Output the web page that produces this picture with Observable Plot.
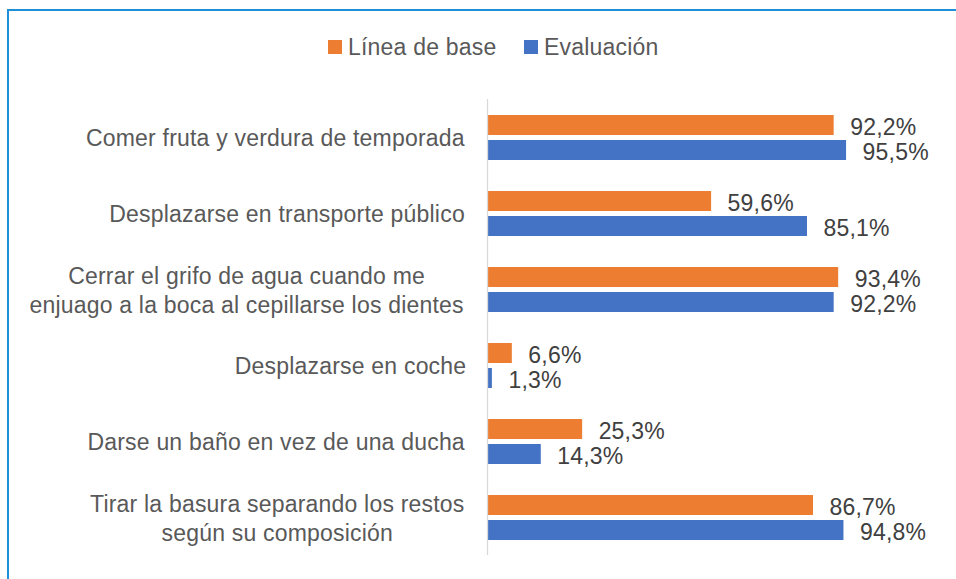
<!DOCTYPE html>
<html>
<head>
<meta charset="utf-8">
<script src="https://cdn.jsdelivr.net/npm/d3@7"></script>
<script src="https://cdn.jsdelivr.net/npm/@observablehq/plot@0.6"></script>
<style>
  html, body { margin: 0; padding: 0; background: #fff; width: 956px; height: 579px; overflow: hidden; }
  #wrap { position: relative; width: 956px; height: 579px; font-family: "Liberation Sans", Arial, sans-serif; }
  #border { position: absolute; left: 7px; top: 9px; width: 1000px; height: 700px; border-top: 2px solid #1E8FD9; border-left: 2px solid #1E8FD9; box-sizing: border-box; pointer-events: none; }
  #legend { position: absolute; left: 0; top: 0; width: 956px; height: 80px; }
  .item { position: absolute; top: 31px; display: flex; align-items: center; font-size: 23px; color: #595959; letter-spacing: 0.2px; height: 32px; }
  .sw { width: 14px; height: 14px; margin-right: 6px; }
  #chart { position: absolute; left: 0; top: 80px; }
  g[aria-label="category-label"] text { letter-spacing: 0.42px; }
</style>
</head>
<body>
<div id="wrap">
  <div id="legend"></div>
  <div id="chart"></div>
  <div id="border"></div>
</div>
<script>
const categories = [
  "Comer fruta y verdura de temporada",
  "Desplazarse en transporte público",
  "Cerrar el grifo de agua cuando me\nenjuago a la boca al cepillarse los dientes",
  "Desplazarse en coche",
  "Darse un baño en vez de una ducha",
  "Tirar la basura separando los restos\nsegún su composición"
];
const series = ["Línea de base", "Evaluación"];
const baseline = [92.2, 59.6, 93.4, 6.6, 25.3, 86.7];
const evaluation = [95.5, 85.1, 92.2, 1.3, 14.3, 94.8];
const colors = ["#ED7D31", "#4472C4"];

const rows = [];
categories.forEach((c, i) => {
  rows.push({category: c, series: series[0], value: baseline[i]});
  rows.push({category: c, series: series[1], value: evaluation[i]});
});

const FONT = '"Liberation Sans", Arial, sans-serif';
const FS = 23;
const LS = 0.2;
const LS_CAT = 0.42;
const canvas = document.createElement("canvas");
const ctx = canvas.getContext("2d");
ctx.font = `${FS}px "Liberation Sans"`;
const measure = s => ctx.measureText(s).width + LS_CAT * s.length;

// legend
const legend = document.getElementById("legend");
const legendX = [328, 524];
series.forEach((s, i) => {
  const it = document.createElement("div");
  it.className = "item";
  it.style.left = legendX[i] + "px";
  it.innerHTML = `<span class="sw" style="background:${colors[i]}"></span><span>${s}</span>`;
  legend.appendChild(it);
});

const fmt = v => v.toFixed(1).replace(".", ",") + "%";

const labelMarks = categories.map(c => {
  const w = d3.max(c.split("\n"), measure);
  return Plot.text([c], {
    fy: d => d,
    text: d => d,
    frameAnchor: "left",
    textAnchor: "middle",
    dx: -(19 + w / 2),
    lineHeight: 1.22,
    fontSize: FS,
    fill: "#595959",
    ariaLabel: "category-label"
  });
});

const plot = Plot.plot({
  width: 956,
  height: 499,
  marginLeft: 487,
  marginRight: 93,
  marginTop: 19,
  marginBottom: 24,
  style: {fontFamily: FONT, letterSpacing: LS + "px", background: "transparent", overflow: "visible"},
  x: {domain: [0, 100], axis: null},
  y: {domain: series, paddingInner: 0.2, paddingOuter: 0.62, axis: null},
  fy: {domain: categories, padding: 0, axis: null},
  color: {domain: series, range: colors},
  marks: [
    Plot.barX(rows, {x: "value", y: "series", fy: "category", fill: "series"}),
    Plot.ruleX([0], {stroke: "#d9d9d9", strokeWidth: 1.3}),
    Plot.text(rows, {
      x: "value", y: "series", fy: "category",
      text: d => fmt(d.value),
      textAnchor: "start", dx: 16, dy: 2,
      fontSize: FS, fill: "#404040"
    }),
    ...labelMarks
  ]
});
document.getElementById("chart").appendChild(plot);
</script>
</body>
</html>
